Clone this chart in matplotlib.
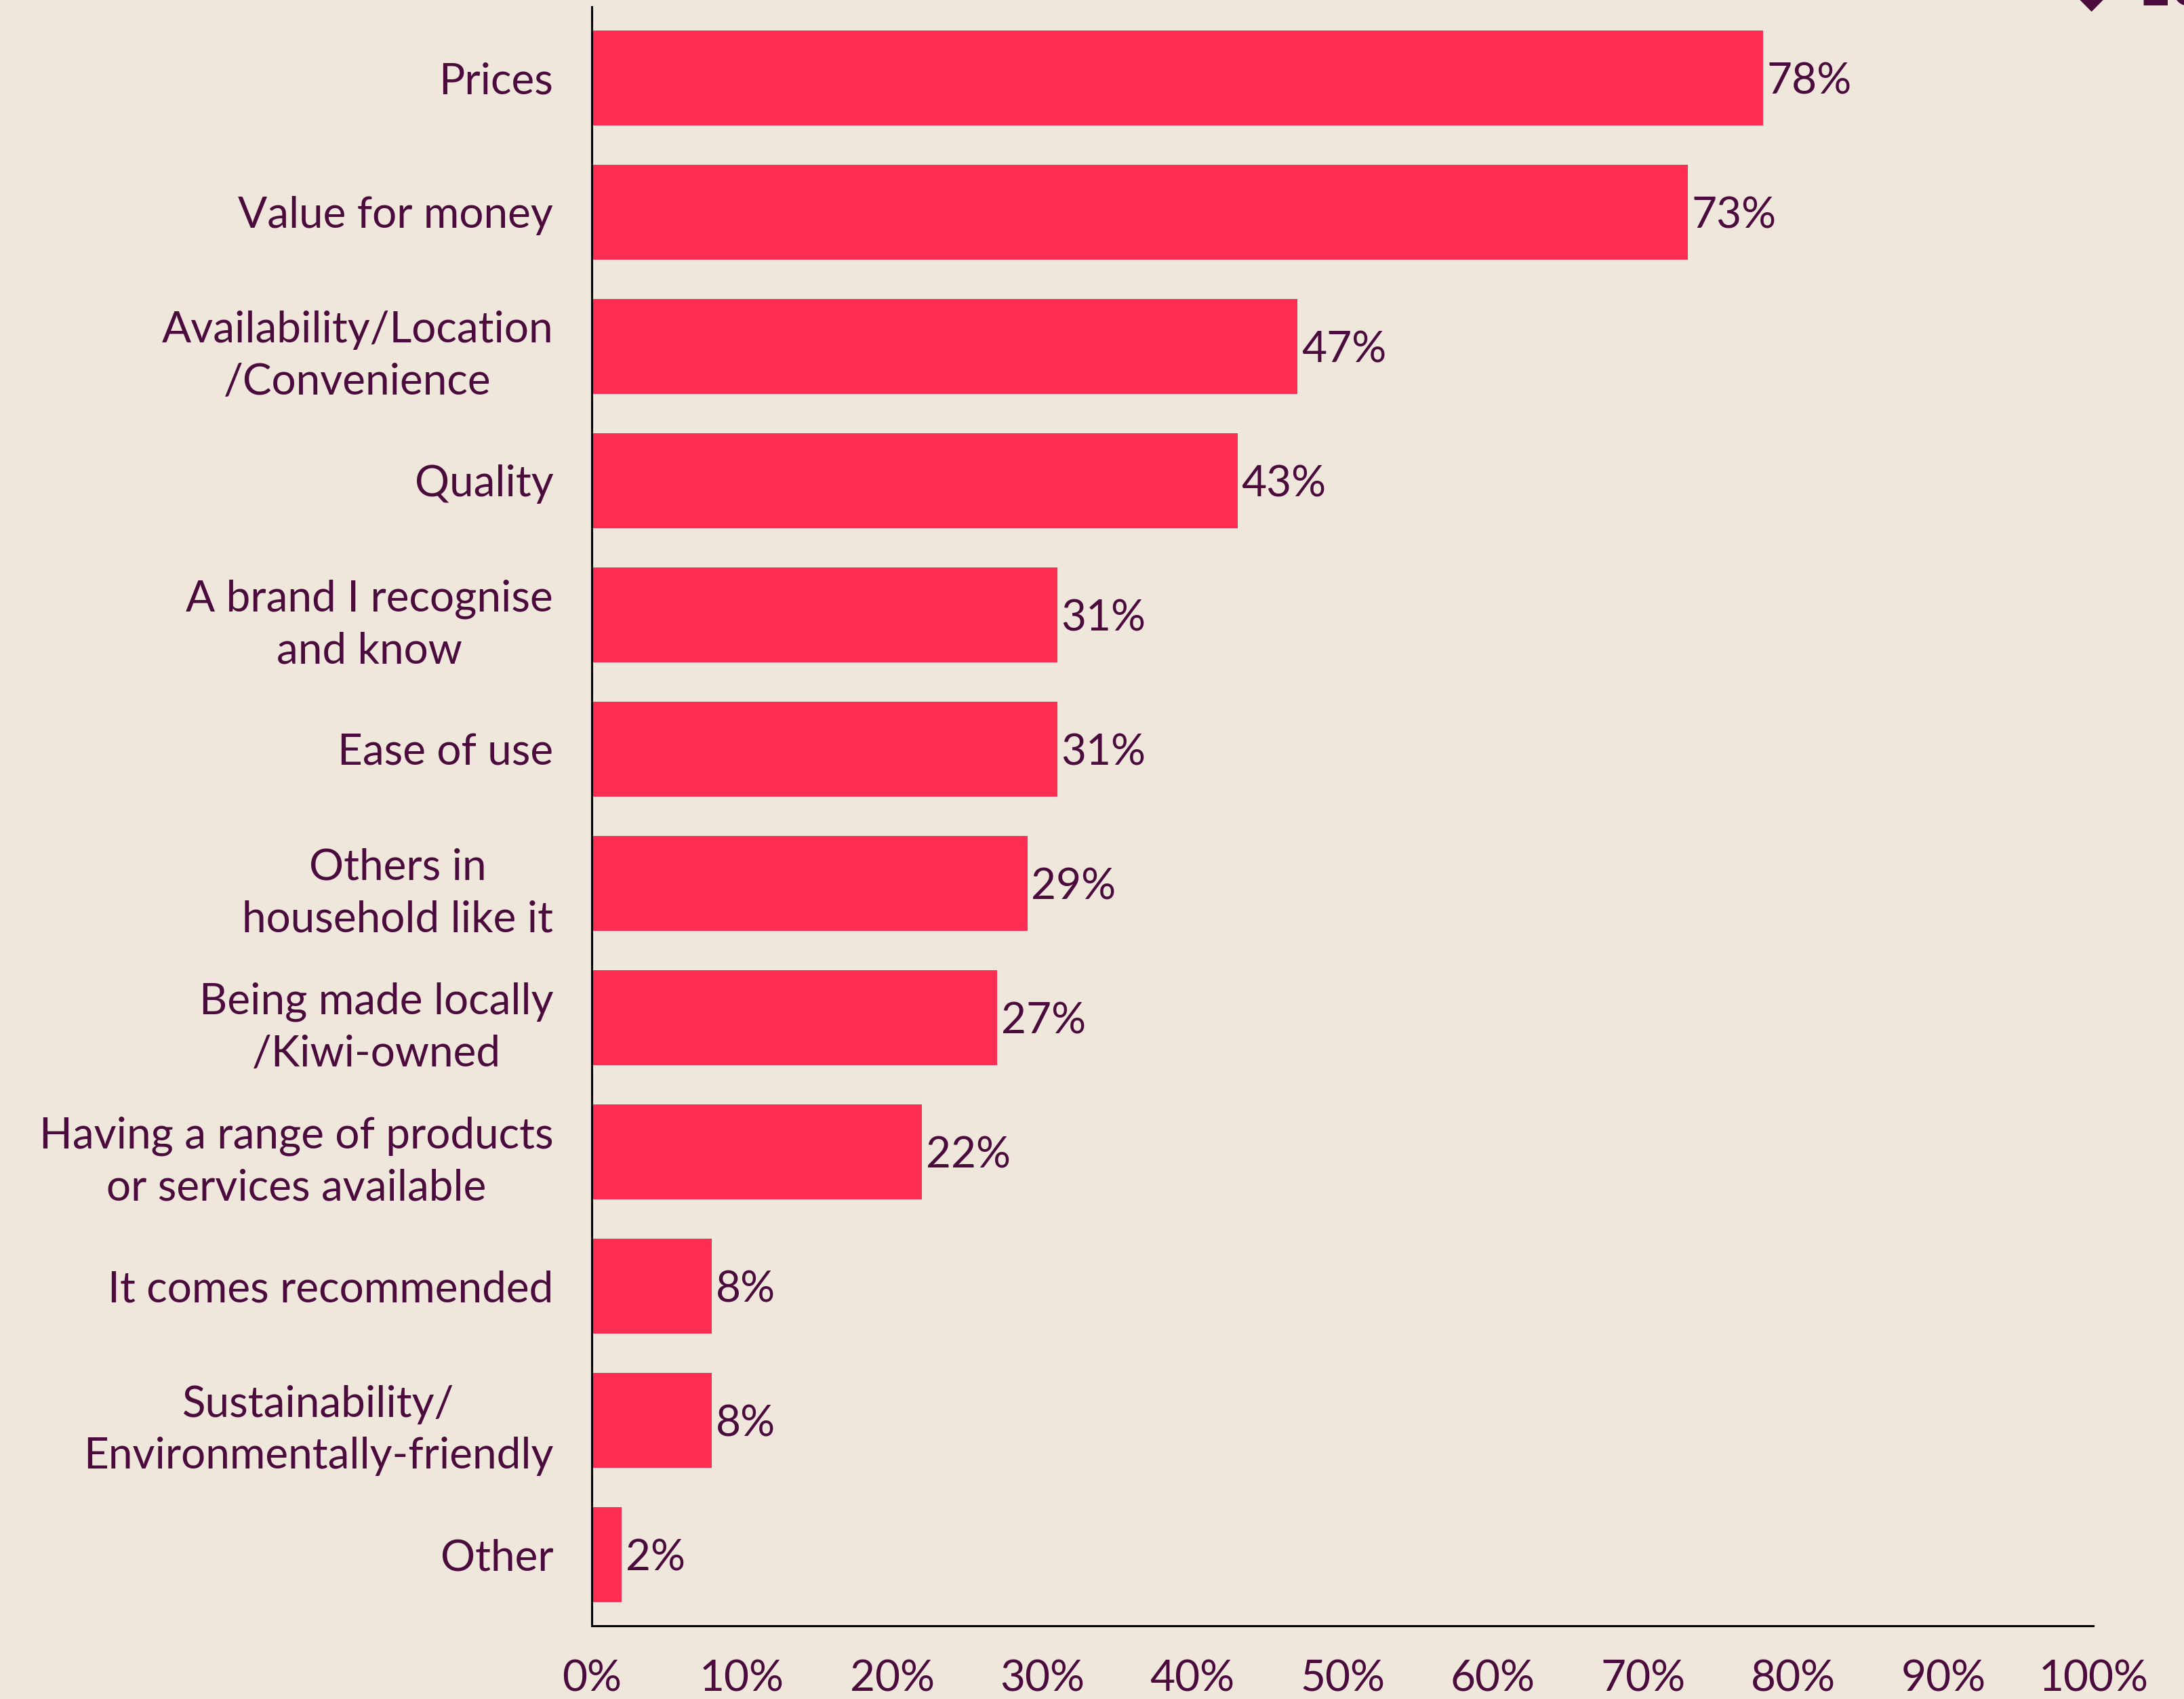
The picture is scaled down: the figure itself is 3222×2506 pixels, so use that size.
import matplotlib.pyplot as plt

# Survey results: reasons for choosing a provider
labels = [
    "Prices",
    "Value for money",
    "Availability/Location\n/Convenience",
    "Quality",
    "A brand I recognise\nand know",
    "Ease of use",
    "Others in\nhousehold like it",
    "Being made locally\n/Kiwi-owned",
    "Having a range of products\nor services available",
    "It comes recommended",
    "Sustainability/\nEnvironmentally-friendly",
    "Other",
]
values = [78, 73, 47, 43, 31, 31, 29, 27, 22, 8, 8, 2]
xticks = [0, 10, 20, 30, 40, 50, 60, 70, 80, 90, 100]

BG = "#EFE6DC"
BAR = "#FF2D52"
INK = "#4B0B3D"

plt.rcParams["font.family"] = ["Lato", "DejaVu Sans"]

fig = plt.figure(figsize=(32.22, 25.06), dpi=100, facecolor=BG)
ax = fig.add_axes([0.271, 0.0431, 0.6875, 0.9529])
ax.set_facecolor(BG)

pos = list(range(len(labels)))
ax.barh(pos, values, height=0.71, color=BAR)

for y, v in zip(pos, values):
    ax.text(v + 0.25, y, f"{v}%", va="center_baseline", ha="left", fontsize=46,
            color=INK)

ax.set_xlim(0, 100)
ax.set_ylim(len(labels) - 0.47, -0.53)

ax.set_yticks(pos)
ax.set_yticklabels(labels, fontsize=46, color=INK, multialignment="center",
                   linespacing=1.4)
ax.set_xticks(xticks)
ax.set_xticklabels([f"{t}%" for t in xticks], fontsize=46, color=INK)
ax.tick_params(axis="y", length=0, pad=41)
ax.tick_params(axis="x", length=0, pad=36)

for side in ["top", "right"]:
    ax.spines[side].set_visible(False)
for side in ["left", "bottom"]:
    ax.spines[side].set_linewidth(2.2)
    ax.spines[side].set_color("black")

# page marker in the top corner
fig.text(0.9575, 0.9966, "◆", fontsize=48, color=INK, ha="center", va="baseline",
         family="DejaVu Sans")
fig.text(0.978, 0.9966, "10", fontsize=64, color=INK, ha="left", va="baseline",
         fontweight="bold")

fig.savefig("out.png", dpi=100, facecolor=BG)
